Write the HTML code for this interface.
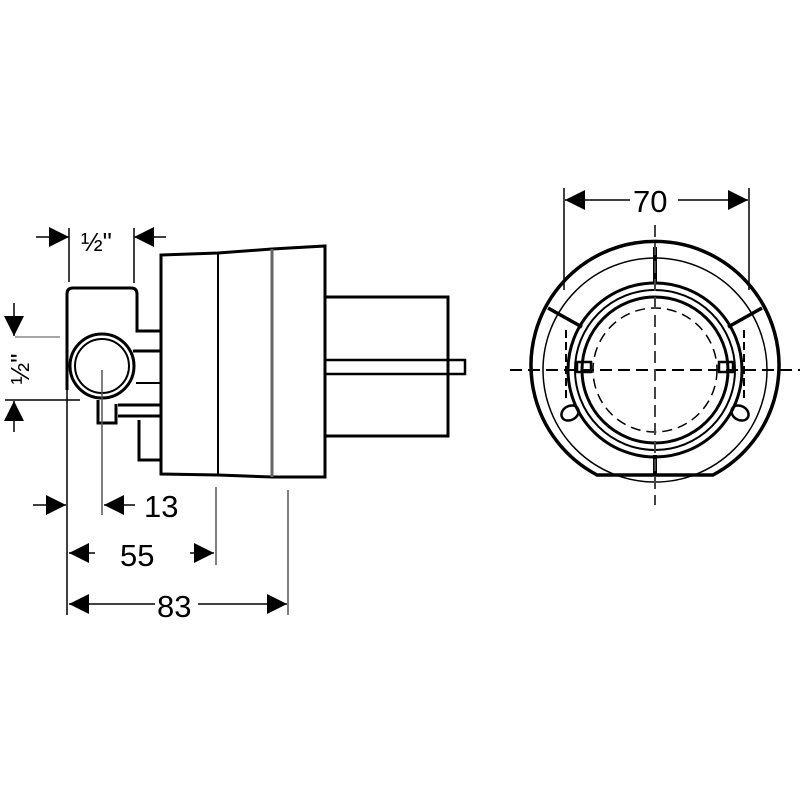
<!DOCTYPE html>
<html><head><style>html,body{margin:0;padding:0;background:#fff}svg{display:block}</style></head><body>
<svg width="800" height="800" viewBox="0 0 800 800" xmlns="http://www.w3.org/2000/svg" font-family="Liberation Sans Narrow, Liberation Sans, sans-serif">
<defs>
<marker id="a" viewBox="0 0 10 10" refX="10" refY="5" markerWidth="22" markerHeight="20" markerUnits="userSpaceOnUse" orient="auto"><path d="M0,0 L10,5 L0,10z" fill="#000"/></marker>
</defs>
<g fill="none" stroke="#000" stroke-width="3">
<path d="M161,255 L218,253 L272,249 L325,246 L325,477 L272,477 L218,475 L161,474 Z"/>
<line x1="218" y1="253" x2="218" y2="475" stroke-width="2"/>
<line x1="272" y1="249" x2="272" y2="477" stroke="#666" stroke-width="3"/>
<path d="M325,297 L448,297 L448,436 L325,436"/>
<path d="M325,360 L465,360 L465,374 L325,374" stroke-width="2.5"/>
<path d="M67,390 L67,294 Q67,288 73,288 L131,288 Q137,288 137,294 L137,331 L161,331"/>
<line x1="133" y1="351" x2="161" y2="351"/>
<line x1="136" y1="383" x2="161" y2="383" stroke-width="2"/>
<line x1="118" y1="405" x2="161" y2="405"/>
<line x1="118" y1="416" x2="161" y2="416"/>
<path d="M98,400 L98,423 L116,423 L116,404"/>
<path d="M139,420 L139,460 L161,460"/>
<circle cx="102" cy="366" r="32"/>
<circle cx="102" cy="366" r="27" stroke-width="2"/>
</g>
<g stroke="#000" fill="none" stroke-width="1.5">
<line x1="69" y1="228" x2="69" y2="282"/>
<line x1="134" y1="228" x2="134" y2="283"/>
<line x1="36" y1="237" x2="69" y2="237" marker-end="url(#a)"/>
<line x1="166" y1="237" x2="134" y2="237" marker-end="url(#a)"/>
<line x1="15" y1="337" x2="60" y2="337" stroke="#888"/>
<line x1="5" y1="400" x2="80" y2="400"/>
<line x1="14" y1="303" x2="14" y2="336" marker-end="url(#a)"/>
<line x1="14" y1="432" x2="14" y2="401" marker-end="url(#a)"/>
<line x1="67" y1="390" x2="67" y2="615"/>
<line x1="102" y1="370" x2="102" y2="515" stroke="#555"/>
<line x1="216" y1="487" x2="216" y2="565" stroke="#555"/>
<line x1="288" y1="490" x2="288" y2="615" stroke="#555"/>
<line x1="33" y1="505" x2="66" y2="505" marker-end="url(#a)"/>
<line x1="135" y1="505" x2="104" y2="505" marker-end="url(#a)"/>
<line x1="95" y1="553" x2="69" y2="553" marker-end="url(#a)"/>
<line x1="190" y1="553" x2="214" y2="553" marker-end="url(#a)"/>
<line x1="155" y1="604" x2="69" y2="604" marker-end="url(#a)"/>
<line x1="198" y1="604" x2="287" y2="604" marker-end="url(#a)"/>
</g>
<g font-size="31" fill="#000">
<text x="81" y="251" font-size="26">½"</text>
<text x="144" y="517">13</text>
<text x="120" y="566">55</text>
<text x="157" y="617">83</text>
<text transform="translate(29,369) rotate(-90)" text-anchor="middle" font-size="26">½"</text>
</g>
<g stroke="#000" fill="none">
<line x1="564" y1="188" x2="564" y2="290" stroke-width="1.5"/>
<line x1="749" y1="188" x2="749" y2="290" stroke-width="1.5"/>
<line x1="630" y1="200" x2="565" y2="200" stroke-width="1.5" marker-end="url(#a)"/>
<line x1="678" y1="200" x2="748" y2="200" stroke-width="1.5" marker-end="url(#a)"/>
<path d="M597,475 A124,124 0 1 1 713,475 Z" stroke-width="3.5"/>
<circle cx="655" cy="370" r="112" stroke-width="1.5"/>
<circle cx="655" cy="370" r="87" stroke-width="3"/>
<circle cx="655" cy="370" r="80" stroke-width="2"/>
<circle cx="655" cy="370" r="73" stroke-width="3"/>
<circle cx="655" cy="370" r="62" stroke-width="1.5" stroke-dasharray="10,6"/>
<line x1="655" y1="247" x2="655" y2="283" stroke-width="4"/>
<line x1="655" y1="455" x2="655" y2="475" stroke-width="4"/>
<line x1="548" y1="308" x2="582" y2="327" stroke-width="3.5"/>
<line x1="762" y1="308" x2="728" y2="327" stroke-width="3.5"/>
<rect x="577" y="362" width="14" height="10" stroke-width="2.5"/>
<rect x="719" y="362" width="14" height="10" stroke-width="2.5"/>
<line x1="566" y1="330" x2="566" y2="400" stroke-width="2" stroke-dasharray="8,4"/>
<line x1="744" y1="330" x2="744" y2="400" stroke-width="2" stroke-dasharray="8,4"/>
<ellipse cx="570" cy="413" rx="9" ry="7" stroke-width="2.5" transform="rotate(-30 570 413)"/>
<ellipse cx="740" cy="413" rx="9" ry="7" stroke-width="2.5" transform="rotate(30 740 413)"/>
<line x1="510" y1="370" x2="800" y2="370" stroke-width="2" stroke-dasharray="12,6"/>
<line x1="655" y1="225" x2="655" y2="505" stroke="#444" stroke-width="2" stroke-dasharray="12,6"/>
</g>
<text x="633" y="212" font-size="31" fill="#000">70</text>
</svg>
</body></html>
